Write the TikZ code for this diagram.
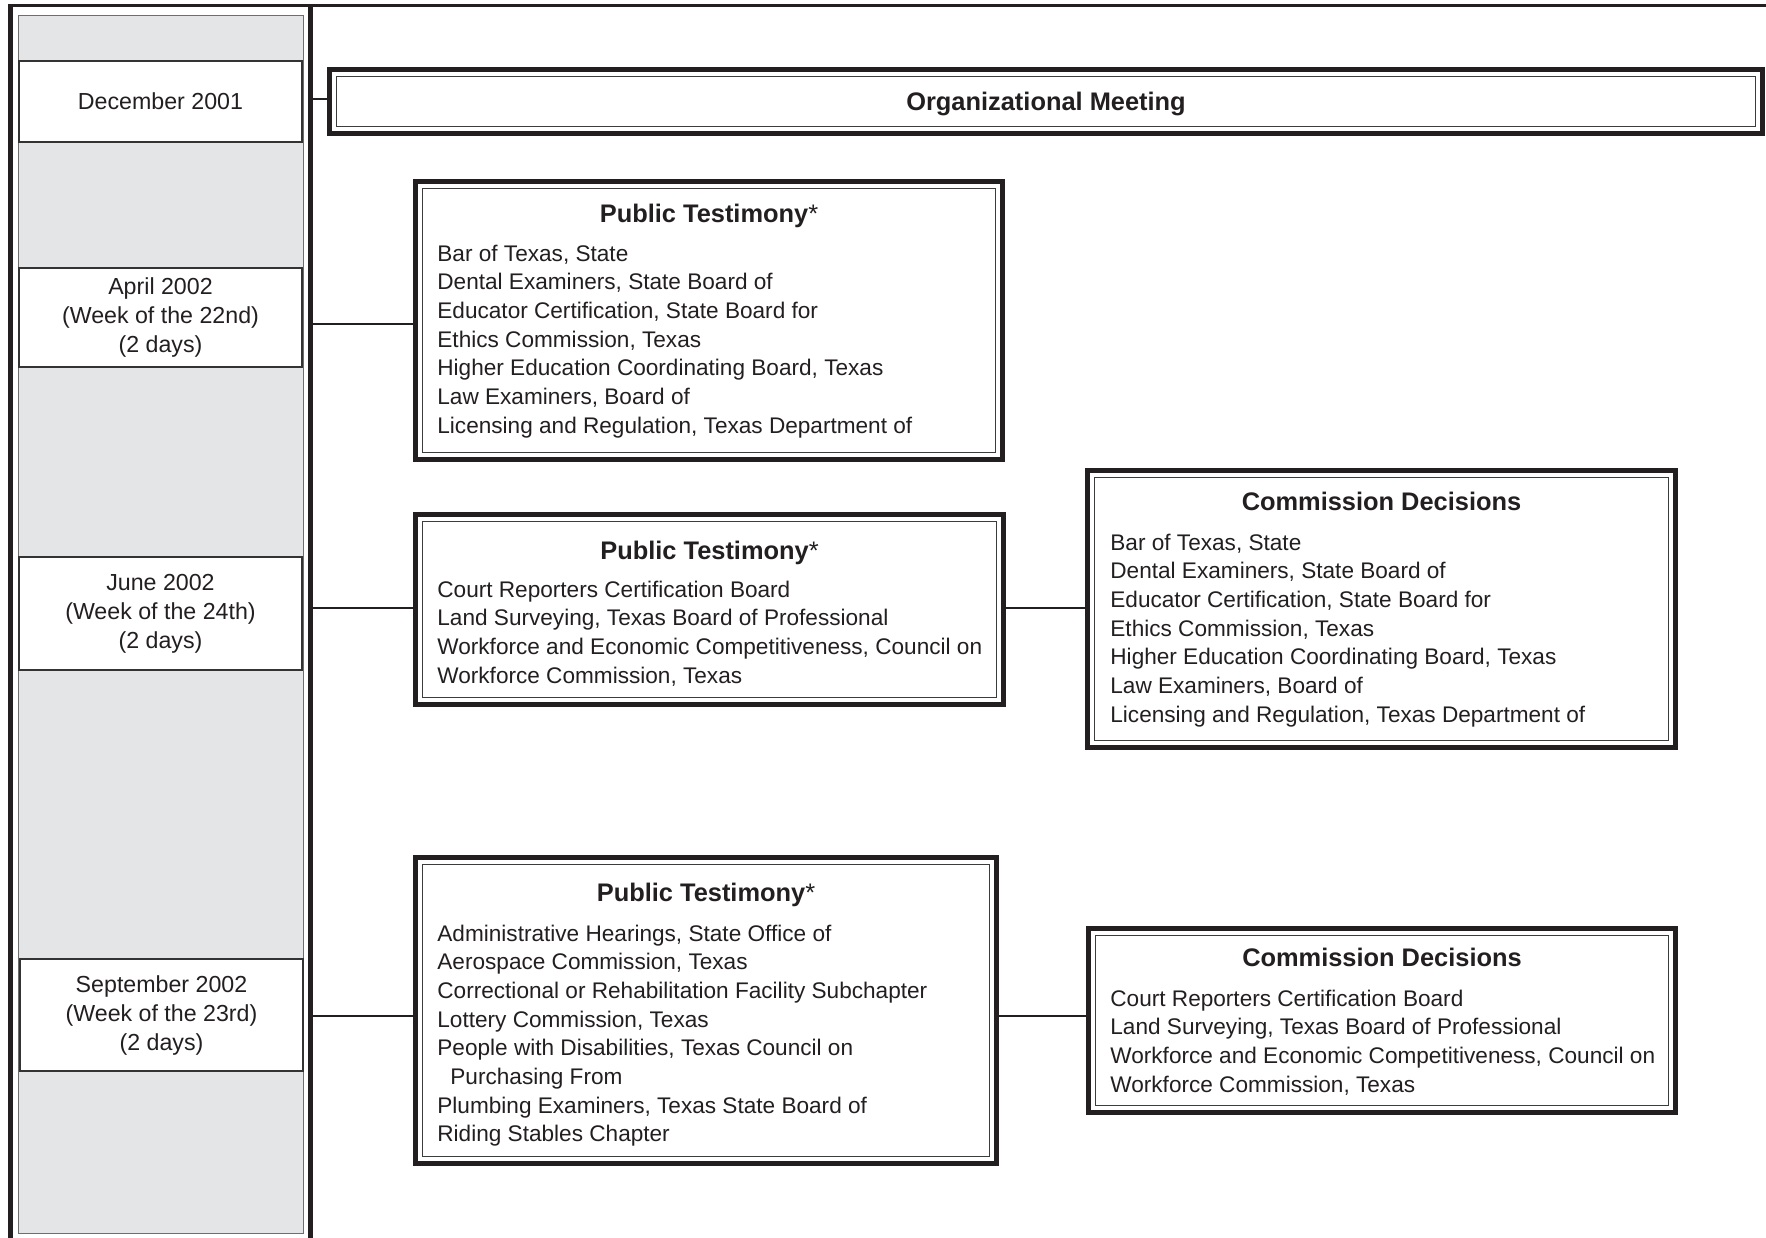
\documentclass[tikz,border=0pt]{standalone}
\usepackage{fontspec}
\setmainfont{Liberation Sans}
\definecolor{ink}{HTML}{231F20}
\definecolor{colgray}{HTML}{E4E5E7}
\definecolor{edgegray}{HTML}{6E6E6E}
\definecolor{thinline}{HTML}{3C3C3C}
\definecolor{datedge}{HTML}{333333}
\newcommand{\itemfont}{\fontsize{11.3}{14}\selectfont}
\newcommand{\titlefont}{\fontsize{12.7}{15}\selectfont}
\newcommand{\datefont}{\fontsize{11.6}{14.5}\selectfont}
\newcommand{\mkdbox}[5]{%
  \pgfmathsetmacro{\bxX}{(#2+#4)/2}%
  \pgfmathsetmacro{\bxY}{(#3+#5)/2}%
  \pgfmathsetmacro{\bxW}{(#4-#2-5)/2}%
  \pgfmathsetmacro{\bxH}{(#5-#3-5)/2}%
  \node[thickbox, minimum width=\bxW pt, minimum height=\bxH pt] (#1) at (\bxX,\bxY) {};
  \draw[innerline] ([shift={(3.6pt,-3.6pt)}]#1.north west) rectangle ([shift={(-3.6pt,3.6pt)}]#1.south east);
}
\newcommand{\itemlist}[4]{%
  \foreach \t [count=\i from 0] in {#4} \node[item] (#1-\i) at (#2,#3+28.7*\i) {\t};
}
\begin{document}
\begin{tikzpicture}[x=0.5pt,y=-0.5pt,
  frameline/.style={draw=ink, line width=2.5pt},
  thickbox/.style={draw=ink, line width=2.5pt, rectangle, inner sep=0pt, outer sep=0pt, fill=white},
  innerline/.style={draw=thinline, line width=0.6pt},
  datebox/.style={draw=datedge, line width=0.6pt, fill=white, rectangle, inner sep=0pt, outer sep=0pt, minimum width=141.5pt, align=center, font=\datefont, text=ink},
  conn/.style={draw=ink, line width=1pt},
  title/.style={font=\titlefont, anchor=base, inner sep=0pt, text=ink},
  item/.style={font=\itemfont, anchor=base west, inner sep=0pt, text=ink},
]
\useasboundingbox (0,0) rectangle (1766,1237);
\clip (0,0) rectangle (1766,1237);
% gray column and frame
\filldraw[fill=colgray, draw=edgegray, line width=0.5pt] (18.5,15) rectangle (303,1233);
\draw[frameline] (10.5,4) -- (10.5,1245);
\draw[frameline] (310.5,4) -- (310.5,1245);
\draw[draw=ink, line width=1.4pt] (8,5.4) -- (1770,5.4);
% date boxes
\node[datebox, minimum height=40.5pt] (dec) at (160.5,101.5) {December 2001};
\node[datebox, minimum height=49.5pt] (apr) at (160.5,317.5) {April 2002\\(Week of the 22nd)\\(2 days)};
\node[datebox, minimum height=56.5pt] (jun) at (160.5,613.5) {June 2002\\(Week of the 24th)\\(2 days)};
\node[datebox, minimum height=56pt] (sep) at (161.5,1015) {September 2002\\(Week of the 23rd)\\(2 days)};
% connector anchors on the frame
\coordinate (fr0) at (310.5,99);
\coordinate (fr1) at (310.5,324);
\coordinate (fr2) at (310.5,608);
\coordinate (fr3) at (310.5,1016);
% boxes
\mkdbox{org}{327}{67}{1765}{136}
\mkdbox{pt1}{413}{179}{1005}{462}
\mkdbox{pt2}{413}{512}{1006}{707}
\mkdbox{cd1}{1085}{468}{1678}{750}
\mkdbox{pt3}{413}{855}{999}{1166}
\mkdbox{cd2}{1086}{926}{1678}{1115}
% connectors
\draw[conn] (fr0) -- (fr0 -| org.west);
\draw[conn] (fr1) -- (fr1 -| pt1.west);
\draw[conn] (fr2) -- (fr2 -| pt2.west);
\draw[conn] (fr2 -| pt2.east) -- (fr2 -| cd1.west);
\draw[conn] (fr3) -- (fr3 -| pt3.west);
\draw[conn] (fr3 -| pt3.east) -- (fr3 -| cd2.west);
% titles
\node[title] (orgt) at (1046,110) {\bfseries Organizational Meeting};
\node[title] (pt1t) at (709,222) {{\bfseries Public Testimony}*};
\node[title] (pt2t) at (709.5,559) {{\bfseries Public Testimony}*};
\node[title] (cd1t) at (1381.5,510) {\bfseries Commission Decisions};
\node[title] (pt3t) at (706,901) {{\bfseries Public Testimony}*};
\node[title] (cd2t) at (1382,966) {\bfseries Commission Decisions};
% items
\itemlist{pt1i}{437}{261}{{Bar of Texas, State},{Dental Examiners, State Board of},{Educator Certification, State Board for},{Ethics Commission, Texas},{Higher Education Coordinating Board, Texas},{Law Examiners, Board of},{Licensing and Regulation, Texas Department of}}
\itemlist{pt2i}{437}{597}{{Court Reporters Certification Board},{Land Surveying, Texas Board of Professional},{Workforce and Economic Competitiveness, Council on},{Workforce Commission, Texas}}
\itemlist{cd1i}{1110}{550}{{Bar of Texas, State},{Dental Examiners, State Board of},{Educator Certification, State Board for},{Ethics Commission, Texas},{Higher Education Coordinating Board, Texas},{Law Examiners, Board of},{Licensing and Regulation, Texas Department of}}
\itemlist{pt3i}{437}{941}{{Administrative Hearings, State Office of},{Aerospace Commission, Texas},{Correctional or Rehabilitation Facility Subchapter},{Lottery Commission, Texas},{People with Disabilities, Texas Council on},{\hspace*{6.5pt}Purchasing From},{Plumbing Examiners, Texas State Board of},{Riding Stables Chapter}}
\itemlist{cd2i}{1110}{1006}{{Court Reporters Certification Board},{Land Surveying, Texas Board of Professional},{Workforce and Economic Competitiveness, Council on},{Workforce Commission, Texas}}
\end{tikzpicture}
\end{document}
